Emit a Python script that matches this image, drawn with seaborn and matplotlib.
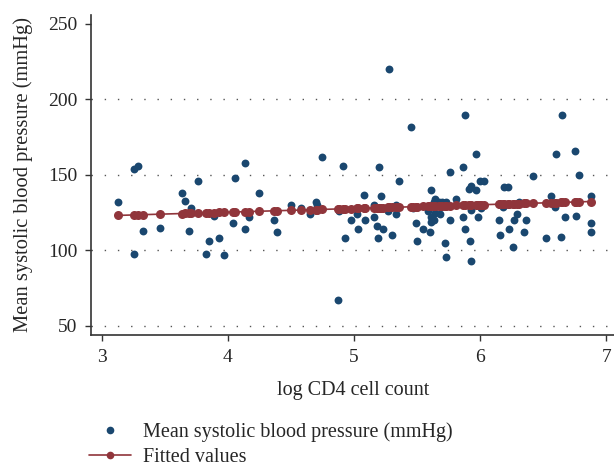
import numpy as np
import pandas as pd
import seaborn as sns
import matplotlib.pyplot as plt
from matplotlib.lines import Line2D

# log CD4 cell count and mean systolic blood pressure (mmHg)
log_cd4 = [3.13, 3.26, 3.29, 3.26, 3.33, 3.46, 3.64, 3.66, 3.69, 3.71, 3.76, 3.83,
           3.85, 3.89, 3.93, 3.97, 4.04, 4.06, 4.14, 4.14, 4.17, 4.25, 4.37, 4.39,
           4.50, 4.58, 4.65, 4.70, 4.71, 4.75, 4.87, 4.88, 4.91, 4.93, 4.98, 5.02,
           5.03, 5.08, 5.09, 5.16, 5.16, 5.18, 5.19, 5.20, 5.21, 5.23, 5.27, 5.28,
           5.30, 5.33, 5.33, 5.36, 5.45, 5.47, 5.49, 5.50, 5.55, 5.59, 5.60, 5.61,
           5.61, 5.61, 5.63, 5.63, 5.64, 5.64, 5.67, 5.68, 5.70, 5.72, 5.73, 5.73,
           5.76, 5.76, 5.81, 5.86, 5.86, 5.88, 5.88, 5.91, 5.92, 5.93, 5.93, 5.93,
           5.97, 5.97, 5.98, 6.00, 6.03, 6.01, 6.15, 6.16, 6.18, 6.19, 6.22, 6.23,
           6.26, 6.27, 6.29, 6.31, 6.36, 6.35, 6.42, 6.52, 6.56, 6.59, 6.60, 6.64,
           6.65, 6.67, 6.75, 6.76, 6.78, 6.88, 6.88, 6.88]
sbp = [132, 154, 156, 98, 113, 115, 138, 133, 113, 128, 146, 98,
       106, 123, 108, 97, 118, 148, 158, 114, 122, 138, 120, 112,
       130, 128, 124, 132, 130, 162, 67, 126, 156, 108, 120, 124,
       114, 137, 120, 130, 122, 116, 108, 155, 136, 114, 126, 220,
       110, 130, 124, 146, 182, 128, 118, 106, 114, 126, 112, 140,
       122, 119, 120, 132, 134, 125, 132, 124, 132, 105, 96, 132,
       120, 152, 134, 155, 122, 114, 190, 141, 106, 143, 127, 93,
       140, 164, 122, 146, 146, 128, 120, 110, 129, 142, 142, 114,
       102, 120, 124, 132, 120, 112, 149, 108, 136, 129, 164, 109,
       190, 122, 166, 123, 150, 136, 118, 112]

y_ticks = [50, 100, 150, 200, 250]
x_ticks = [3, 4, 5, 6, 7]

navy = "#1a476f"
maroon = "#90353b"

df = pd.DataFrame({"x": log_cd4, "y": sbp})
slope, intercept = np.polyfit(df["x"], df["y"], 1)
df["fit"] = intercept + slope * df["x"]

sns.set_style("white")
plt.rcParams["font.family"] = ["Liberation Serif", "DejaVu Serif"]

fig = plt.figure(figsize=(6.14, 4.66), dpi=100)
ax = fig.add_axes([0.149, 0.281, 0.851, 0.687])

for g in y_ticks[:-1]:
    ax.axhline(g, color="#555555", lw=1.0, ls=(0, (1, 8.5)), zorder=0)

sns.scatterplot(data=df, x="x", y="y", color=navy, s=32, linewidth=0, ax=ax, zorder=2)
sns.lineplot(data=df, x="x", y="fit", color=maroon, marker="o", markersize=6.5,
             markeredgewidth=0, lw=1.2, ax=ax, zorder=3)

ax.set_xlim(2.92, 7.06)
ax.set_ylim(44, 256)
ax.set_xticks(x_ticks)
ax.set_yticks(y_ticks)
ax.tick_params(axis="both", direction="out", length=4, width=1, color="#333333",
               labelsize=14, pad=6, left=True, bottom=True)
for side in ["top", "right"]:
    ax.spines[side].set_visible(False)
for side in ["left", "bottom"]:
    ax.spines[side].set_color("#333333")
    ax.spines[side].set_linewidth(1.2)

ax.set_xlabel("log CD4 cell count", fontsize=14.5, labelpad=11)
ax.set_ylabel("Mean systolic blood pressure (mmHg)", fontsize=14.8, labelpad=11)

handles = [
    Line2D([], [], color=navy, marker="o", ls="none", markersize=5.5, markeredgewidth=0),
    Line2D([], [], color=maroon, marker="o", lw=1.2, markersize=5.5, markeredgewidth=0),
]
fig.legend(handles, ["Mean systolic blood pressure (mmHg)", "Fitted values"],
           loc="lower left", bbox_to_anchor=(0.115, -0.042), frameon=False,
           fontsize=14.5, handlelength=2.1, handletextpad=0.6, labelspacing=0.3)

fig.savefig("out.png", dpi=100)
